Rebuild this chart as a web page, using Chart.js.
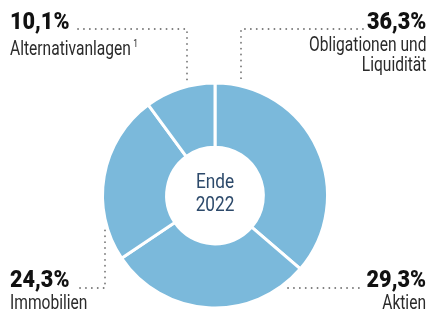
<!DOCTYPE html>
<html>
<head>
<meta charset="utf-8">
<script src="https://cdn.jsdelivr.net/npm/chart.js@4"></script>
<style>
  html, body { margin: 0; padding: 0; background: #fff; }
  #wrap { position: relative; width: 429px; height: 311px; overflow: hidden; }
  #chart { position: absolute; left: 0; top: 0; }
  .lbl { position: absolute; font-family: "Roboto", "Liberation Sans", sans-serif; color: #2a2a2a; white-space: nowrap; }
  .lbl.right { text-align: right; }
  .lbl .pct { font-weight: 900; font-size: 24px; line-height: 25px; color: #111; display: block; transform: scaleX(0.9); }
  .lbl .name { font-size: 20.5px; line-height: 20px; display: block; transform: scaleX(0.76); }
  .lbl.left .name, .lbl.left .pct { transform-origin: left center; }
  .lbl.right .name, .lbl.right .pct { transform-origin: right center; }
  .lbl sup { font-size: 11px; vertical-align: 8px; margin-left: 3px; }
  #center { position: absolute; left: 165px; width: 100px; top: 170px; text-align: center;
    font-family: "Roboto", sans-serif; font-size: 21px; line-height: 23px; color: #2d4a6b;
    transform: scaleX(0.82); }
</style>
</head>
<body>
<div id="wrap">
  <canvas id="chart" width="429" height="311"></canvas>
  <div id="center">Ende<br>2022</div>
</div>
<script>
// Asset allocation end of 2022
const categories = ['Obligationen und Liquidität', 'Aktien', 'Immobilien', 'Alternativanlagen'];
const shares = [36.3, 29.3, 24.3, 10.1];
const footnotes = ['', '', '', '1'];

// label boxes (layout only)
const labelBoxes = [
    { right: 3, top: 9, lines: ['Obligationen und', 'Liquidität'] },
    { right: 3, top: 267, lines: ['Aktien'] },
    { left: 10, top: 267, lines: ['Immobilien'] },
    { left: 10, top: 9, lines: ['Alternativanlagen'] }
];

// dotted leader lines [x1, y1, x2, y2, ...]
const leaders = [
    [363, 29, 241, 29, 241, 82],
    [288, 288, 363, 288],
    [80, 288, 105, 288, 105, 230],
    [78, 29, 187, 29, 187, 82]
];

const fmt = v => v.toFixed(1).replace('.', ',') + '%';

const wrap = document.getElementById('wrap');
categories.forEach((c, i) => {
    const b = labelBoxes[i];
    const el = document.createElement('div');
    el.className = 'lbl ' + (b.right !== undefined ? 'right' : 'left');
    if (b.right !== undefined) el.style.right = b.right + 'px'; else el.style.left = b.left + 'px';
    el.style.top = b.top + 'px';
    let html = '<span class="pct">' + fmt(shares[i]) + '</span>';
    b.lines.forEach((line, j) => {
        html += '<span class="name">' + line + (j === b.lines.length - 1 && footnotes[i] ? '<sup>' + footnotes[i] + '</sup>' : '') + '</span>';
    });
    el.innerHTML = html;
    wrap.appendChild(el);
});

const leaderPlugin = {
    id: 'leaders',
    afterDraw(chart) {
        const ctx = chart.ctx;
        ctx.save();
        ctx.strokeStyle = '#7a7a7a';
        ctx.lineWidth = 1.8;
        ctx.lineCap = 'round';
        ctx.setLineDash([0.1, 5.8]);
        leaders.forEach(p => {
            ctx.beginPath();
            ctx.moveTo(p[0], p[1]);
            for (let k = 2; k < p.length; k += 2) ctx.lineTo(p[k], p[k + 1]);
            ctx.stroke();
        });
        ctx.restore();
    }
};

new Chart(document.getElementById('chart'), {
    type: 'doughnut',
    data: {
        labels: categories,
        datasets: [{
            data: shares,
            backgroundColor: '#7bb9db',
            borderColor: '#ffffff',
            borderWidth: 3
        }]
    },
    options: {
        responsive: false,
        animation: false,
        cutout: '43%',
        layout: { padding: { left: 101, right: 100, top: 81, bottom: 1 } },
        plugins: {
            legend: { display: false },
            tooltip: { enabled: false }
        }
    },
    plugins: [leaderPlugin]
});
</script>
</body>
</html>
